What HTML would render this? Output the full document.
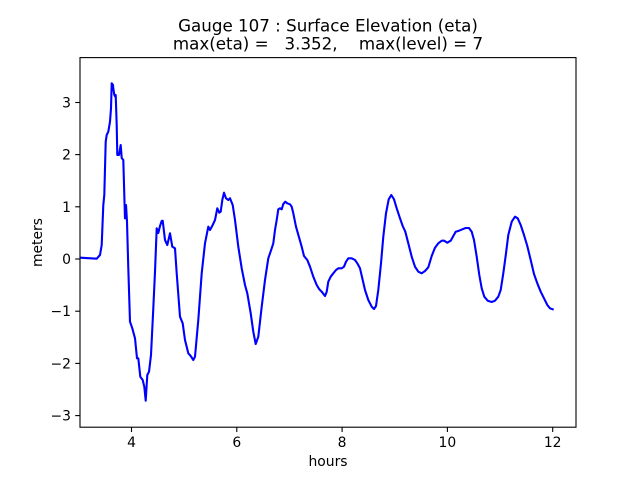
<!DOCTYPE html>
<html><head><meta charset="utf-8"><style>
html,body{margin:0;padding:0;background:#fff;}
svg{display:block;font-family:"DejaVu Sans","Liberation Sans",sans-serif;}
</style></head><body>
<svg width="640" height="480" viewBox="0 0 640 480" xmlns="http://www.w3.org/2000/svg">
<rect width="640" height="480" fill="#fff"/>
<text x="328" y="31.5" font-size="16.7" text-anchor="middle">Gauge 107 : Surface Elevation (eta)</text>
<text x="328" y="49.5" font-size="16.7" text-anchor="middle" xml:space="preserve">max(eta) =   3.352,    max(level) = 7</text>
<clipPath id="c"><rect x="80" y="57.6" width="496" height="369.6"/></clipPath>
<polyline clip-path="url(#c)" fill="none" stroke="#0000ff" stroke-width="2.1" stroke-linejoin="round" stroke-linecap="square" points="
80.7,257.7 96.7,258.7 100,255 101.7,245 103.3,205 104.3,195 105.7,141.7 106.7,135 108.3,131.7 110,121.7 111,108.3 111.7,83.3 113,85 113.3,88.3 114.3,95 115.3,96.7 115.7,95 116.7,125 117.3,155 119,155 120.7,145 121.7,158 123.3,160 124.3,195 125,218.3 126,205 127,221.7 128.3,268.3 130,321.7 132.3,328.3 135,338.3 137,358.3 138.3,358.3 140.3,376.7 142.7,380 144.3,386.7 145.7,400.7 147.3,375 149,371.7 151,355 153.3,308.3 155,271.7 156.7,228.3 158.3,233 160,226 161.7,221 162.7,220.7 165,240 167.3,245 170,233.3 172.3,246.7 175,248.3 176.7,273.3 180,316.7 182.7,323.3 185,340 188.3,353.3 190.7,356 193.3,360 195,356.7 198.3,320 201.7,273.3 205,243.3 208.3,226.7 210,230 212.7,225 215,220 217.3,208.3 219.3,212.7 220.7,211.7 222.3,200 224,192.7 226,198.3 228.3,200 230,198.3 232.7,205 235,220 238.3,246.7 241.7,268.3 245,285 247.3,293.3 250.7,313.3 253.3,331.7 255.7,344 258.3,336.7 261.7,306.7 265,280 268.3,258.3 271.7,248.3 273.3,243.3 275,230 276.7,220 278.3,209.3 280,208.3 281.7,209.3 283.3,204 285.3,201.7 287.3,203.3 290,204.3 291.7,206.7 293.3,213.3 296,226.7 299.3,238.3 301.7,246.7 304,256 307.3,260 310,266.7 313.3,276.7 316.7,285 319.3,289.3 321.7,291.7 325,296 326.7,291.7 328.3,281.7 330.7,276.7 333.3,273.3 336,270 338.3,268.3 341.7,268.3 344,266.7 346,261.7 348.3,258.3 351.7,258.3 355,260 357.3,263.3 360,268.3 362.7,280 365,290 368.3,300 371.7,306.7 374,309 376,306 378.3,290 381,263.3 383.3,236.7 386,213.3 388.7,199.3 391.3,195 394,199.3 396.7,208.3 400,218.3 402.7,226 405.3,231.7 408.3,243.3 411.7,256.7 415,266.7 418.3,271.7 421.7,273.3 425,271 428.3,267.3 431.7,256 435,247.7 438.3,243.3 441.7,240.7 444.3,240.7 447.3,242.7 450.7,240.7 453.3,236 455.7,231.7 459,230.7 462.3,229.3 465.7,228 469,228 471.7,231.7 474,240 476.7,256.7 479.3,275 481.7,288.3 484.3,296.7 487.7,300.7 491.7,302 495,300.7 498.3,296.7 500.7,290 503.3,273.3 506,253.3 508.3,235 511.7,221.7 515,216.7 517.7,218.3 520.7,225 524,235 527.3,246 530.7,260 534,274 537.3,283.3 540.7,291.7 544,298.3 547.3,305 550,308.3 552.7,309.3"/>
<rect x="80" y="57.6" width="496" height="369.6" fill="none" stroke="#000" stroke-width="1.1"/>
<g stroke="#000" stroke-width="1.1">
<line x1="131.5" y1="427.2" x2="131.5" y2="432"/>
<line x1="236.8" y1="427.2" x2="236.8" y2="432"/>
<line x1="342.1" y1="427.2" x2="342.1" y2="432"/>
<line x1="447.4" y1="427.2" x2="447.4" y2="432"/>
<line x1="552.7" y1="427.2" x2="552.7" y2="432"/>
<line x1="75.2" y1="102.5" x2="80" y2="102.5"/>
<line x1="75.2" y1="154.6" x2="80" y2="154.6"/>
<line x1="75.2" y1="206.8" x2="80" y2="206.8"/>
<line x1="75.2" y1="259" x2="80" y2="259"/>
<line x1="75.2" y1="311.2" x2="80" y2="311.2"/>
<line x1="75.2" y1="363.4" x2="80" y2="363.4"/>
<line x1="75.2" y1="415.6" x2="80" y2="415.6"/>
</g>
<g font-size="13.9" text-anchor="middle">
<text x="131.5" y="447">4</text>
<text x="236.8" y="447">6</text>
<text x="342.1" y="447">8</text>
<text x="447.4" y="447">10</text>
<text x="552.7" y="447">12</text>
<text x="328" y="466">hours</text>
</g>
<g font-size="13.9" text-anchor="end">
<text x="71" y="107.5">3</text>
<text x="71" y="159.6">2</text>
<text x="71" y="211.8">1</text>
<text x="71" y="264">0</text>
<text x="71" y="316.2">−1</text>
<text x="71" y="368.4">−2</text>
<text x="71" y="420.6">−3</text>
</g>
<text transform="translate(42,242.5) rotate(-90)" font-size="13.9" text-anchor="middle">meters</text>
</svg>
</body></html>
